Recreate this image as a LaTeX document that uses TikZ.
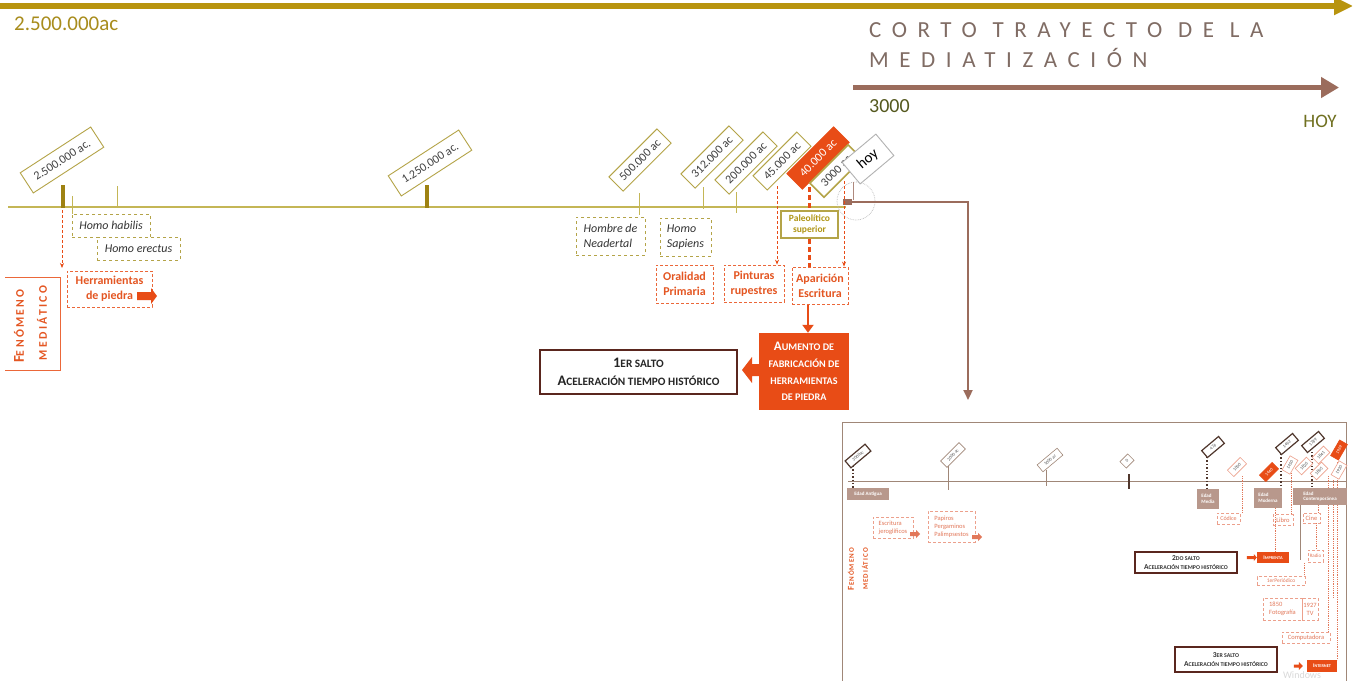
\documentclass[tikz,border=0pt]{standalone}
\usepackage{fontspec}
\setmainfont{Carlito}
\usepackage{graphicx}
\usetikzlibrary{arrows.meta}
\definecolor{gold}{RGB}{184,148,14}
\definecolor{goldtxt}{RGB}{168,140,28}
\definecolor{olive}{RGB}{196,182,86}
\definecolor{tagb}{RGB}{180,164,72}
\definecolor{tickc}{RGB}{158,130,18}
\definecolor{ored}{RGB}{232,76,22}
\definecolor{otxt}{RGB}{228,86,34}
\definecolor{brn}{RGB}{155,108,92}
\definecolor{dbrn}{RGB}{90,38,30}
\definecolor{ttl}{RGB}{128,108,100}
\definecolor{grn}{RGB}{84,88,30}
\definecolor{hoyc}{RGB}{112,112,32}
\definecolor{pal}{RGB}{176,150,22}
\definecolor{ebox}{RGB}{184,152,140}
\definecolor{lred}{RGB}{236,160,140}
\definecolor{ltxt}{RGB}{226,120,90}
\definecolor{iline}{RGB}{160,135,120}
\definecolor{idark}{RGB}{80,55,45}
\newcommand\smc[1]{\scalebox{0.78}{#1}}
\begin{document}
\begin{tikzpicture}[x=1pt,y=-1pt,
  tagbox/.style={draw=tagb, line width=0.9pt, fill=white, inner sep=0pt, minimum height=20pt, text=black!75, font=\fontsize{12}{12}\selectfont},
  obox/.style={draw=tagb, dashed, line width=0.8pt, inner sep=0pt, font=\fontsize{12}{15}\selectfont\itshape, text=black!80},
  rbox/.style={draw=ored!85, densely dashed, line width=0.8pt, inner sep=0pt, font=\fontsize{12}{15}\selectfont\bfseries, text=otxt, align=center},
  rarr/.style={ored, densely dashed, line width=0.8pt, -{Stealth[length=5pt,width=4pt]}},
  tdash/.style={ored, line width=3pt, dash pattern=on 5pt off 3pt},
  itag/.style={draw=iline, line width=0.6pt, fill=white, inner sep=0pt, minimum height=9pt, text=black!70, font=\fontsize{4.5}{5}\selectfont},
  idtag/.style={itag, draw=idark, line width=1.2pt},
  irtag/.style={itag, draw=ored, fill=ored, text=white},
  iltag/.style={itag, draw=lred},
  edad/.style={fill=ebox, text=white, inner sep=0pt, font=\fontsize{5}{5.5}\selectfont\bfseries, align=left},
  ibox/.style={draw=lred, densely dashed, line width=0.6pt, inner sep=0pt, text=ltxt, font=\fontsize{6.5}{8}\selectfont, align=left},
  ired/.style={fill=ored, text=white, inner sep=0pt, font=\fontsize{5.5}{6}\selectfont\bfseries},
  isalto/.style={draw=dbrn, line width=1.2pt, fill=white, inner sep=0pt, font=\fontsize{7.5}{9}\selectfont\bfseries, text=black!80, align=center},
  idot/.style={idark, dotted, line width=1.4pt},
  irdot/.style={ltxt, densely dotted, line width=0.8pt},
]
\useasboundingbox (0,0) rectangle (1354,680);
\fill[white] (0,0) rectangle (1354,680);

% ---------- top ----------
\coordinate (ta0) at (0,6);
\coordinate (ta1) at (1353,6);
\draw[gold, line width=6pt, -{Triangle[length=19pt,width=17pt]}] (ta0) -- (ta1);
\node[anchor=west, inner sep=0pt, text=goldtxt, font=\fontsize{21}{21}\selectfont] (topdate) at (14,24) {2.500.000ac};
\node[anchor=west, inner sep=0pt, text=ttl, align=left, font=\fontsize{23}{30}\selectfont\addfontfeature{LetterSpace=46}] (title) at (869,45) {CORTO TRAYECTO DE LA\\MEDIATIZACIÓN};
\coordinate (ba0) at (853,87.5);
\coordinate (ba1) at (1339,87.5);
\draw[brn, line width=5pt, -{Triangle[length=18pt,width=20pt]}] (ba0) -- (ba1);
\node[anchor=west, inner sep=0pt, text=grn, font=\fontsize{20}{20}\selectfont] (y3000) at (869,106) {3000};
\node[inner sep=0pt, text=hoyc, font=\fontsize{19}{19}\selectfont] (yhoy) at (1320,121) {HOY};

% ---------- main timeline ----------
\coordinate (tl0) at (8,207);
\coordinate (tl1) at (846,207);
\draw[olive, line width=1.6pt] (tl0) -- (tl1);
\draw[tickc, line width=3.5pt] (63,185) -- (63,208);
\draw[tickc, line width=3.5pt] (427,185) -- (427,208);
\draw[olive, line width=1pt] (72,196) -- (72,214);
\draw[olive, line width=1pt] (117,186) -- (117,207);
\draw[olive, line width=1pt] (639,193) -- (639,215);
\draw[olive, line width=1pt] (703,187) -- (703,209);
\draw[olive, line width=1pt] (736,192) -- (736,213);

% hoy circle and brown connector
\node[draw=gray!55, densely dotted, circle, minimum size=38pt, inner sep=0pt, line width=0.7pt] (circ) at (856,201) {};
\draw[brn!80, line width=1pt] (853,182) -- (853,200);
\node[fill=brn, minimum width=9pt, minimum height=6pt, inner sep=0pt] (sq) at (847,202) {};
\coordinate (bc1) at (968,202);
\coordinate (bc2) at (968,400);
\draw[brn, line width=2.2pt, -{Triangle[length=10pt,width=9pt]}] (sq.east) -- (bc1) -- (bc2);

% ---------- dashed arrows ----------
\coordinate (d25) at (62,210);
\coordinate (d25e) at (62,268);
\draw[rarr] (d25) -- (d25e);

% ---------- lower boxes ----------
\node[obox, minimum width=78pt, minimum height=23pt] (hab) at (111,225.5) {Homo habilis};
\node[obox, fill=white, minimum width=83pt, minimum height=23pt] (ere) at (138.5,248.5) {Homo erectus};
\node[obox, minimum width=69pt, minimum height=38pt, align=left] (nea) at (610.5,236) {Hombre de\\Neadertal};
\node[obox, minimum width=51pt, minimum height=38pt, align=left] (sap) at (685.5,237) {Homo\\Sapiens};
\node[draw=tagb, line width=1.6pt, inner sep=0pt, minimum width=57pt, minimum height=27pt, text=pal, align=center, font=\fontsize{9.5}{11}\selectfont\bfseries] (pal) at (809.5,224.5) {Paleolítico\\superior};
\node[rbox, minimum width=57pt, minimum height=38pt] (ora) at (684.5,284) {Oralidad\\Primaria};
\node[rbox, minimum width=60pt, minimum height=37pt] (pin) at (754,283.5) {Pinturas\\rupestres};
\node[rbox, minimum width=56pt, minimum height=37pt] (apa) at (820,285.5) {Aparición\\Escritura};
\node[rbox, minimum width=85pt, minimum height=36pt] (her) at (109.5,289) {Herramientas\\de piedra};
\fill[ored] (137,292) -- (151,292) -- (151,288) -- (157,296) -- (151,304) -- (151,300) -- (137,300) -- cycle;

% fenomeno mediatico
\draw[ored!85, line width=0.9pt] (5,277) -- (60,277) -- (60,370) -- (5,370);
\node[rotate=90, inner sep=0pt, text=otxt, font=\fontsize{15}{15}\selectfont\bfseries\addfontfeature{LetterSpace=20}] (fen1) at (19,326) {F\smc{ENÓMENO}};
\node[rotate=90, inner sep=0pt, text=otxt, font=\fontsize{15}{15}\selectfont\bfseries\addfontfeature{LetterSpace=20}] (fen2) at (42,323) {\smc{MEDIÁTICO}};

% ---------- tags ----------
\node[tagbox, rotate=33, minimum width=84pt, minimum height=24pt] (t1) at (62,160) {2.500.000 ac.};
\node[tagbox, rotate=33, minimum width=84pt, minimum height=24pt] (t2) at (430,163) {1.250.000 ac.};
\node[tagbox, rotate=45, minimum width=68pt] (t3) at (640,160) {500.000 ac};
\node[tagbox, rotate=45, minimum width=68pt] (t4) at (712,157) {312.000 ac};
\node[tagbox, rotate=45, minimum width=68pt] (t5) at (746,163) {200.000 ac};
\node[tagbox, rotate=45, minimum width=62pt] (t6) at (782,161) {45.000 ac};
\node[tagbox, rotate=45, minimum width=66pt, minimum height=22pt, fill=ored, draw=ored, text=white] (t7) at (818,158) {40.000 ac};
\node[tagbox, rotate=45, minimum width=54pt, line width=1.6pt] (t8) at (836,171) {3000 ac};
\node[tagbox, rotate=40, minimum width=44pt, minimum height=28pt, draw=gray!60, text=black, font=\fontsize{15}{15}\selectfont] (t9) at (868,159) {hoy};

% connectors from tags
\coordinate (d45) at (777,186);
\draw[rarr] (d45) -- (d45 |- pin.north);
\coordinate (d3) at (844,181);
\draw[rarr] (d3) -- (d3 |- apa.north);
\coordinate (d40) at (809.5,187);
\draw[tdash] (d40) -- (pal.north);
\draw[tdash] (pal.south) -- (pal.south |- apa.north);

% ---------- aumento & salto ----------
\node[fill=ored, text=white, font=\fontsize{13}{16.7}\selectfont\bfseries, align=center, minimum width=90pt, minimum height=77pt, inner sep=0pt] (aum) at (804,371.5) {A\smc{UMENTO DE}\\\smc{FABRICACIÓN DE}\\\smc{HERRAMIENTAS}\\\smc{DE PIEDRA}};
\coordinate (aa) at (808,305);
\draw[ored, line width=2.5pt, -{Triangle[length=8pt,width=11pt]}] (aa) -- (aa |- aum.north);
\node[draw=dbrn, line width=2pt, minimum width=197pt, minimum height=44pt, inner sep=0pt, text=black!85, align=center, font=\fontsize{14.5}{18}\selectfont\bfseries] (s1) at (638.5,372) {1\smc{ER SALTO}\\A\smc{CELERACIÓN TIEMPO HISTÓRICO}};
\fill[ored] (aum.west |- 0,364) -- (752,364) -- (752,357) -- (742,370) -- (752,383) -- (752,376) -- (aum.west |- 0,376) -- cycle;

% ---------- inset ----------
\draw[iline, line width=1pt] (842,422) rectangle (1346,684);
\draw[iline, line width=1pt] (848,481) -- (1346,481);
\draw[idot] (853,466) -- (853,488);
\draw[iline, line width=0.8pt] (948,465) -- (948,490);
\draw[iline, line width=0.8pt] (1046,470) -- (1046,486);
\draw[idark, line width=1.2pt] (1129,474) -- (1129,489);
\draw[idot] (1207,457) -- (1207,488);
\draw[irdot] (1242,476) -- (1242,513);
\draw[idot] (1281,454) -- (1281,488);
\draw[irdot] (1291,473) -- (1291,515);
\draw[irdot] (1275,508) -- (1275,552);
\draw[idot] (1312,452) -- (1312,488);
\draw[irdot] (1318,505) -- (1318,513);
\draw[irdot] (1316,523) -- (1316,550);
\draw[iline, line width=0.5pt] (1300,505) -- (1300,560);
\draw[irdot] (1304,563) -- (1304,577);
\draw[irdot] (1328,476) -- (1328,632);
\draw[irdot] (1333,480) -- (1333,598);
\draw[irdot] (1337,462) -- (1337,660);

\node[idtag, rotate=40, minimum width=26pt] (i3000) at (858,456) {3000ac};
\node[edad, minimum width=42pt, minimum height=12pt] (ant) at (868,494) {Edad Antigua};
\node[itag, rotate=45, minimum width=26pt] (i2000) at (953,455) {2000 ac};
\node[itag, rotate=40, minimum width=26pt] (i1000) at (1050,460) {1000 ac};
\node[itag, rotate=45, minimum width=11pt] (i0) at (1127,461) {0};
\node[idtag, rotate=40, minimum width=22pt] (i476) at (1213,447) {476};
\node[edad, minimum width=22pt, minimum height=20pt] (med) at (1208,499) {Edad\\Media};
\node[iltag, rotate=45, minimum width=18pt] (i1000b) at (1237,467) {1000};
\node[ibox, minimum width=23pt, minimum height=11pt, font=\fontsize{6}{6}\selectfont] (cod) at (1228.5,518.5) {Códice};
\node[iltag, rotate=60, minimum width=16pt] (i1450) at (1290,465) {1450};
\node[irtag, rotate=45, minimum width=18pt] (i1440) at (1269,472) {1440};
\node[idtag, rotate=40, minimum width=22pt] (i1492) at (1287,444) {1492};
\node[edad, minimum width=28pt, minimum height=20pt] (mod) at (1268,498) {Edad\\Moderna};
\node[ibox, minimum width=20pt, minimum height=11pt] (lib) at (1283,520) {Libro};
\node[iltag, rotate=45, minimum width=16pt] (i1826) at (1304,466) {1826};
\node[iltag, rotate=45, minimum width=16pt] (i1895) at (1319,471) {1895};
\node[iltag, rotate=45, minimum width=16pt] (i1841) at (1321,455) {1841};
\node[idtag, rotate=40, minimum width=22pt] (i1789) at (1313,442) {1789};
\node[iltag, rotate=60, minimum width=16pt] (i1920) at (1339,470) {1920};
\node[irtag, rotate=60, minimum width=18pt] (i1969) at (1339,450) {1969};
\node[edad, minimum width=54pt, minimum height=17pt] (con) at (1320,496.5) {Edad\\Contemporánea};
\node[ibox, minimum width=17pt, minimum height=10pt] (cine) at (1311.5,518) {Cine};
\node[ibox, minimum width=15pt, minimum height=12pt, font=\fontsize{5}{5}\selectfont] (rad) at (1315.5,556) {Radio};
\node[ired, minimum width=32pt, minimum height=11pt] (imp) at (1273,557.5) {I\smc{MPRENTA}};
\fill[ored] (imp.west) -- ++(-3,-3.5) -- ++(0,2) -- ++(-7,0) -- ++(0,3) -- ++(7,0) -- ++(0,2) -- cycle;
\node[isalto, minimum width=102pt, minimum height=21pt] (s2) at (1186,562.5) {2\smc{DO SALTO}\\A\smc{CELERACIÓN TIEMPO HISTÓRICO}};
\node[ibox, minimum width=48pt, minimum height=9pt, font=\fontsize{5.5}{6}\selectfont] (per) at (1281,581) {1erPeriódico};
\node[ibox, minimum width=39pt, minimum height=22pt] (fot) at (1282.5,609) {1850\\Fotografía};
\node[ibox, minimum width=16pt, minimum height=22pt, align=center] (tv) at (1310,609) {1927\\TV};
\node[ibox, minimum width=48pt, minimum height=11pt] (comp) at (1306,637.5) {Computadora};
\node[ired, minimum width=30pt, minimum height=12pt] (inet) at (1322,666) {I\smc{NTERNET}};
\fill[ored] ([xshift=-4pt]inet.west) -- ++(-4,-4) -- ++(0,2.5) -- ++(-5,0) -- ++(0,3) -- ++(5,0) -- ++(0,2.5) -- cycle;
\node[isalto, minimum width=102pt, minimum height=25pt] (s3) at (1226,659.5) {3\smc{ER SALTO}\\A\smc{CELERACIÓN TIEMPO HISTÓRICO}};
\node[ibox, minimum width=40pt, minimum height=21pt] (jer) at (893,527.5) {Escritura\\jeroglíficos};
\fill[ltxt] (910,532) -- (916,532) -- (916,530) -- (920,534) -- (916,538) -- (916,536) -- (910,536) -- cycle;
\node[ibox, minimum width=47pt, minimum height=31pt] (pap) at (951.5,526.5) {Papiros\\Pergaminos\\Palimpsestos};
\fill[ltxt] (972,535) -- (978,535) -- (978,533) -- (982,537) -- (978,541) -- (978,539) -- (972,539) -- cycle;
\node[rotate=90, inner sep=0pt, text=otxt, font=\fontsize{9}{9}\selectfont\bfseries\addfontfeature{LetterSpace=15}] (ifen1) at (851,569) {F\smc{ENÓMENO}};
\node[rotate=90, inner sep=0pt, text=otxt, font=\fontsize{9}{9}\selectfont\bfseries\addfontfeature{LetterSpace=15}] (ifen2) at (865,569) {\smc{MEDIÁTICO}};
\node[inner sep=0pt, text=gray!30, font=\fontsize{10}{10}\selectfont] (win) at (1302,675) {Windows};
\end{tikzpicture}
\end{document}
